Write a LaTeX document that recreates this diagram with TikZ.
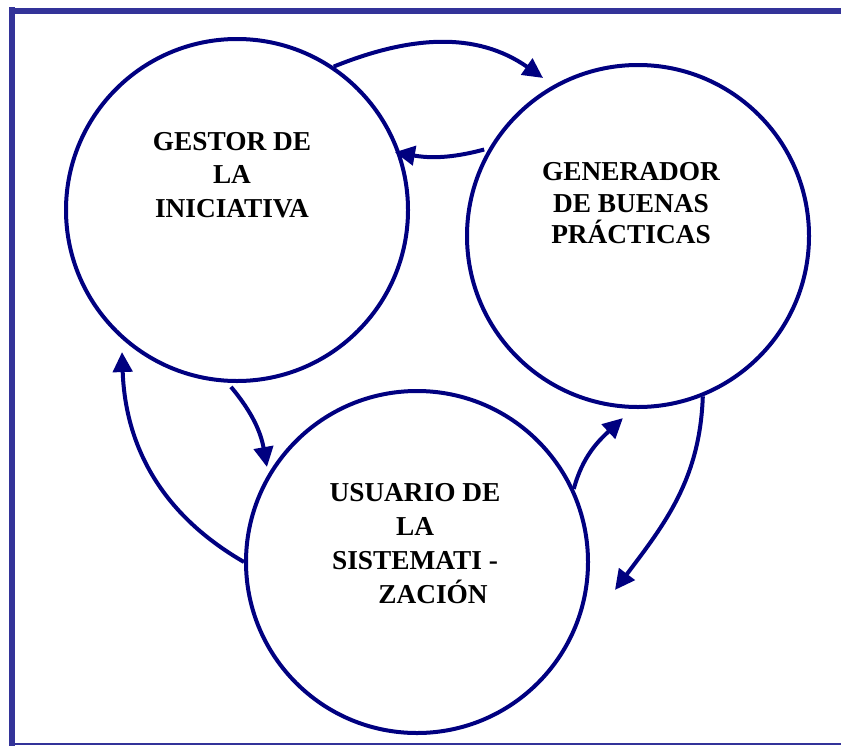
\documentclass[tikz,border=0pt]{standalone}
\usepackage{fontspec}
\setmainfont{Liberation Serif}
\usepackage{xcolor}
\usetikzlibrary{arrows.meta}

\definecolor{azulmarco}{HTML}{333399}
\definecolor{azulrol}{HTML}{000080}

\tikzset{
	rol/.style = {circle, draw = azulrol, line width = 3pt, minimum size = 256.5pt, inner sep = 0pt},
	flecha/.style = {draw = azulrol, line width = 3pt, -{Triangle[length = 15pt, width = 14.5pt]}},
	texto/.style = {align = center, font = \bfseries\fontsize{20.5}{25}\selectfont}
}

\begin{document}
\begin{tikzpicture}[x = 0.75pt, y = 0.75pt]
			
			\useasboundingbox (0,0) rectangle (841,-746);
			
			% marco
			\draw[azulmarco, line width = 4.5pt] (12,-7) -- (12,-746);
			\draw[azulmarco, line width = 4.5pt] (9,-10.5) -- (841,-10.5);
			\draw[azulmarco, line width = 1.2pt] (12,-744) -- (841,-744);
			
			% roles
			\node[rol] (gestor) at (237,-210) {};
			\node[rol] (generador) at (638,-236) {};
			\node[rol] (usuario) at (417,-562) {};
			
			\node[texto] (txtgestor) at (232,-175) {GESTOR DE\\ LA\\ INICIATIVA};
			\node[texto, font = \bfseries\fontsize{20.5}{23.6}\selectfont] (txtgenerador) at (631,-203.5) {GENERADOR\\ DE BUENAS\\ PRÁCTICAS};
			\node[texto, font = \bfseries\fontsize{20.5}{25.5}\selectfont] (txtusuario) at (415,-544) {USUARIO DE\\ LA\\ SISTEMATI -\\ \hspace*{27pt}ZACIÓN};
			
			% flechas
			\draw[flecha] (gestor.56) to[out = 22, in = 145] ([xshift = -4.4pt, yshift = 7.3pt]generador.121);
			\draw[flecha] ([xshift = -3pt]generador.150) to[out = 195, in = -10] ([xshift = -3.5pt, yshift = -1pt]gestor.20);
			\draw[flecha] ([yshift = -3pt]gestor.268) to[out = -50, in = 100] ([xshift = -2.5pt, yshift = 2.5pt]usuario.148);
			\draw[flecha] (usuario.180) to[out = 150, in = -88] ([xshift = -4.6pt, yshift = -5.7pt]gestor.231);
			\draw[flecha] (usuario.25) to[out = 75, in = -137] ([yshift = -7.3pt]generador.265);
			\draw[flecha] (generador.292) to[out = -92, in = 53] ([xshift = 20pt, yshift = -2.9pt]usuario.-8);
			
		\end{tikzpicture}
\end{document}
